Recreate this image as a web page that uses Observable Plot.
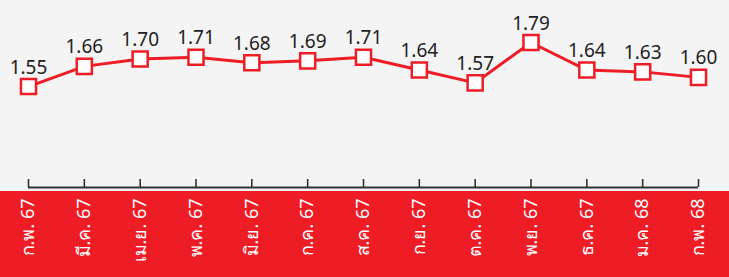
<!DOCTYPE html>
<html>
<head>
<meta charset="utf-8">
<script src="https://cdn.jsdelivr.net/npm/d3@7"></script>
<script src="https://cdn.jsdelivr.net/npm/@observablehq/plot@0.6"></script>
<style>
  html, body { margin: 0; padding: 0; background: #f4f4f4; }
  #chart { width: 729px; height: 277px; background: linear-gradient(to bottom, #f4f4f4 0px, #f4f4f4 191px, #ee1c25 191px, #ee1c25 277px); }
  #chart svg { display: block; }
</style>
</head>
<body>
<div id="chart"></div>
<script>
const months = ["ก.พ. 67","มี.ค. 67","เม.ย. 67","พ.ค. 67","มิ.ย. 67","ก.ค. 67","ส.ค. 67","ก.ย. 67","ต.ค. 67","พ.ย. 67","ธ.ค. 67","ม.ค. 68","ก.พ. 68"];
const values = [1.55,1.66,1.70,1.71,1.68,1.69,1.71,1.64,1.57,1.79,1.64,1.63,1.60];
const data = months.map((m, i) => ({month: m, value: values[i]}));
const red = "#ee1c25";
const font = "Tahoma, 'Noto Sans', 'DejaVu Sans', sans-serif";

const chart = Plot.plot({
  width: 729,
  height: 277,
  marginLeft: 28,
  marginRight: 31,
  marginTop: 31,
  marginBottom: 90,
  style: {fontFamily: font, background: "transparent", fontSize: "18px"},
  x: {type: "point", domain: months, padding: 0, round: false, label: null},
  y: {domain: [1.0, 1.85], axis: null},
  marks: [
    Plot.ruleY([1.0], {stroke: "#333", strokeWidth: 2}),
    Plot.axisX({tickSize: -8, tickFormat: () => "", stroke: "#333", strokeWidth: 1.6, label: null}),
    Plot.axisX({tickSize: 0, tickPadding: 11, tickRotate: -90, fill: "white", label: null}),
    Plot.line(data, {x: "month", y: "value", stroke: red, strokeWidth: 3}),
    Plot.dot(data, {x: "month", y: "value", symbol: "square", r: 8.5, fill: "white", stroke: red, strokeWidth: 2.5}),
    Plot.text(data, {x: "month", y: "value", text: d => d.value.toFixed(2), dy: -13, lineAnchor: "bottom", fontSize: 19, fill: "#222"})
  ]
});
document.getElementById("chart").appendChild(chart);
</script>
</body>
</html>
